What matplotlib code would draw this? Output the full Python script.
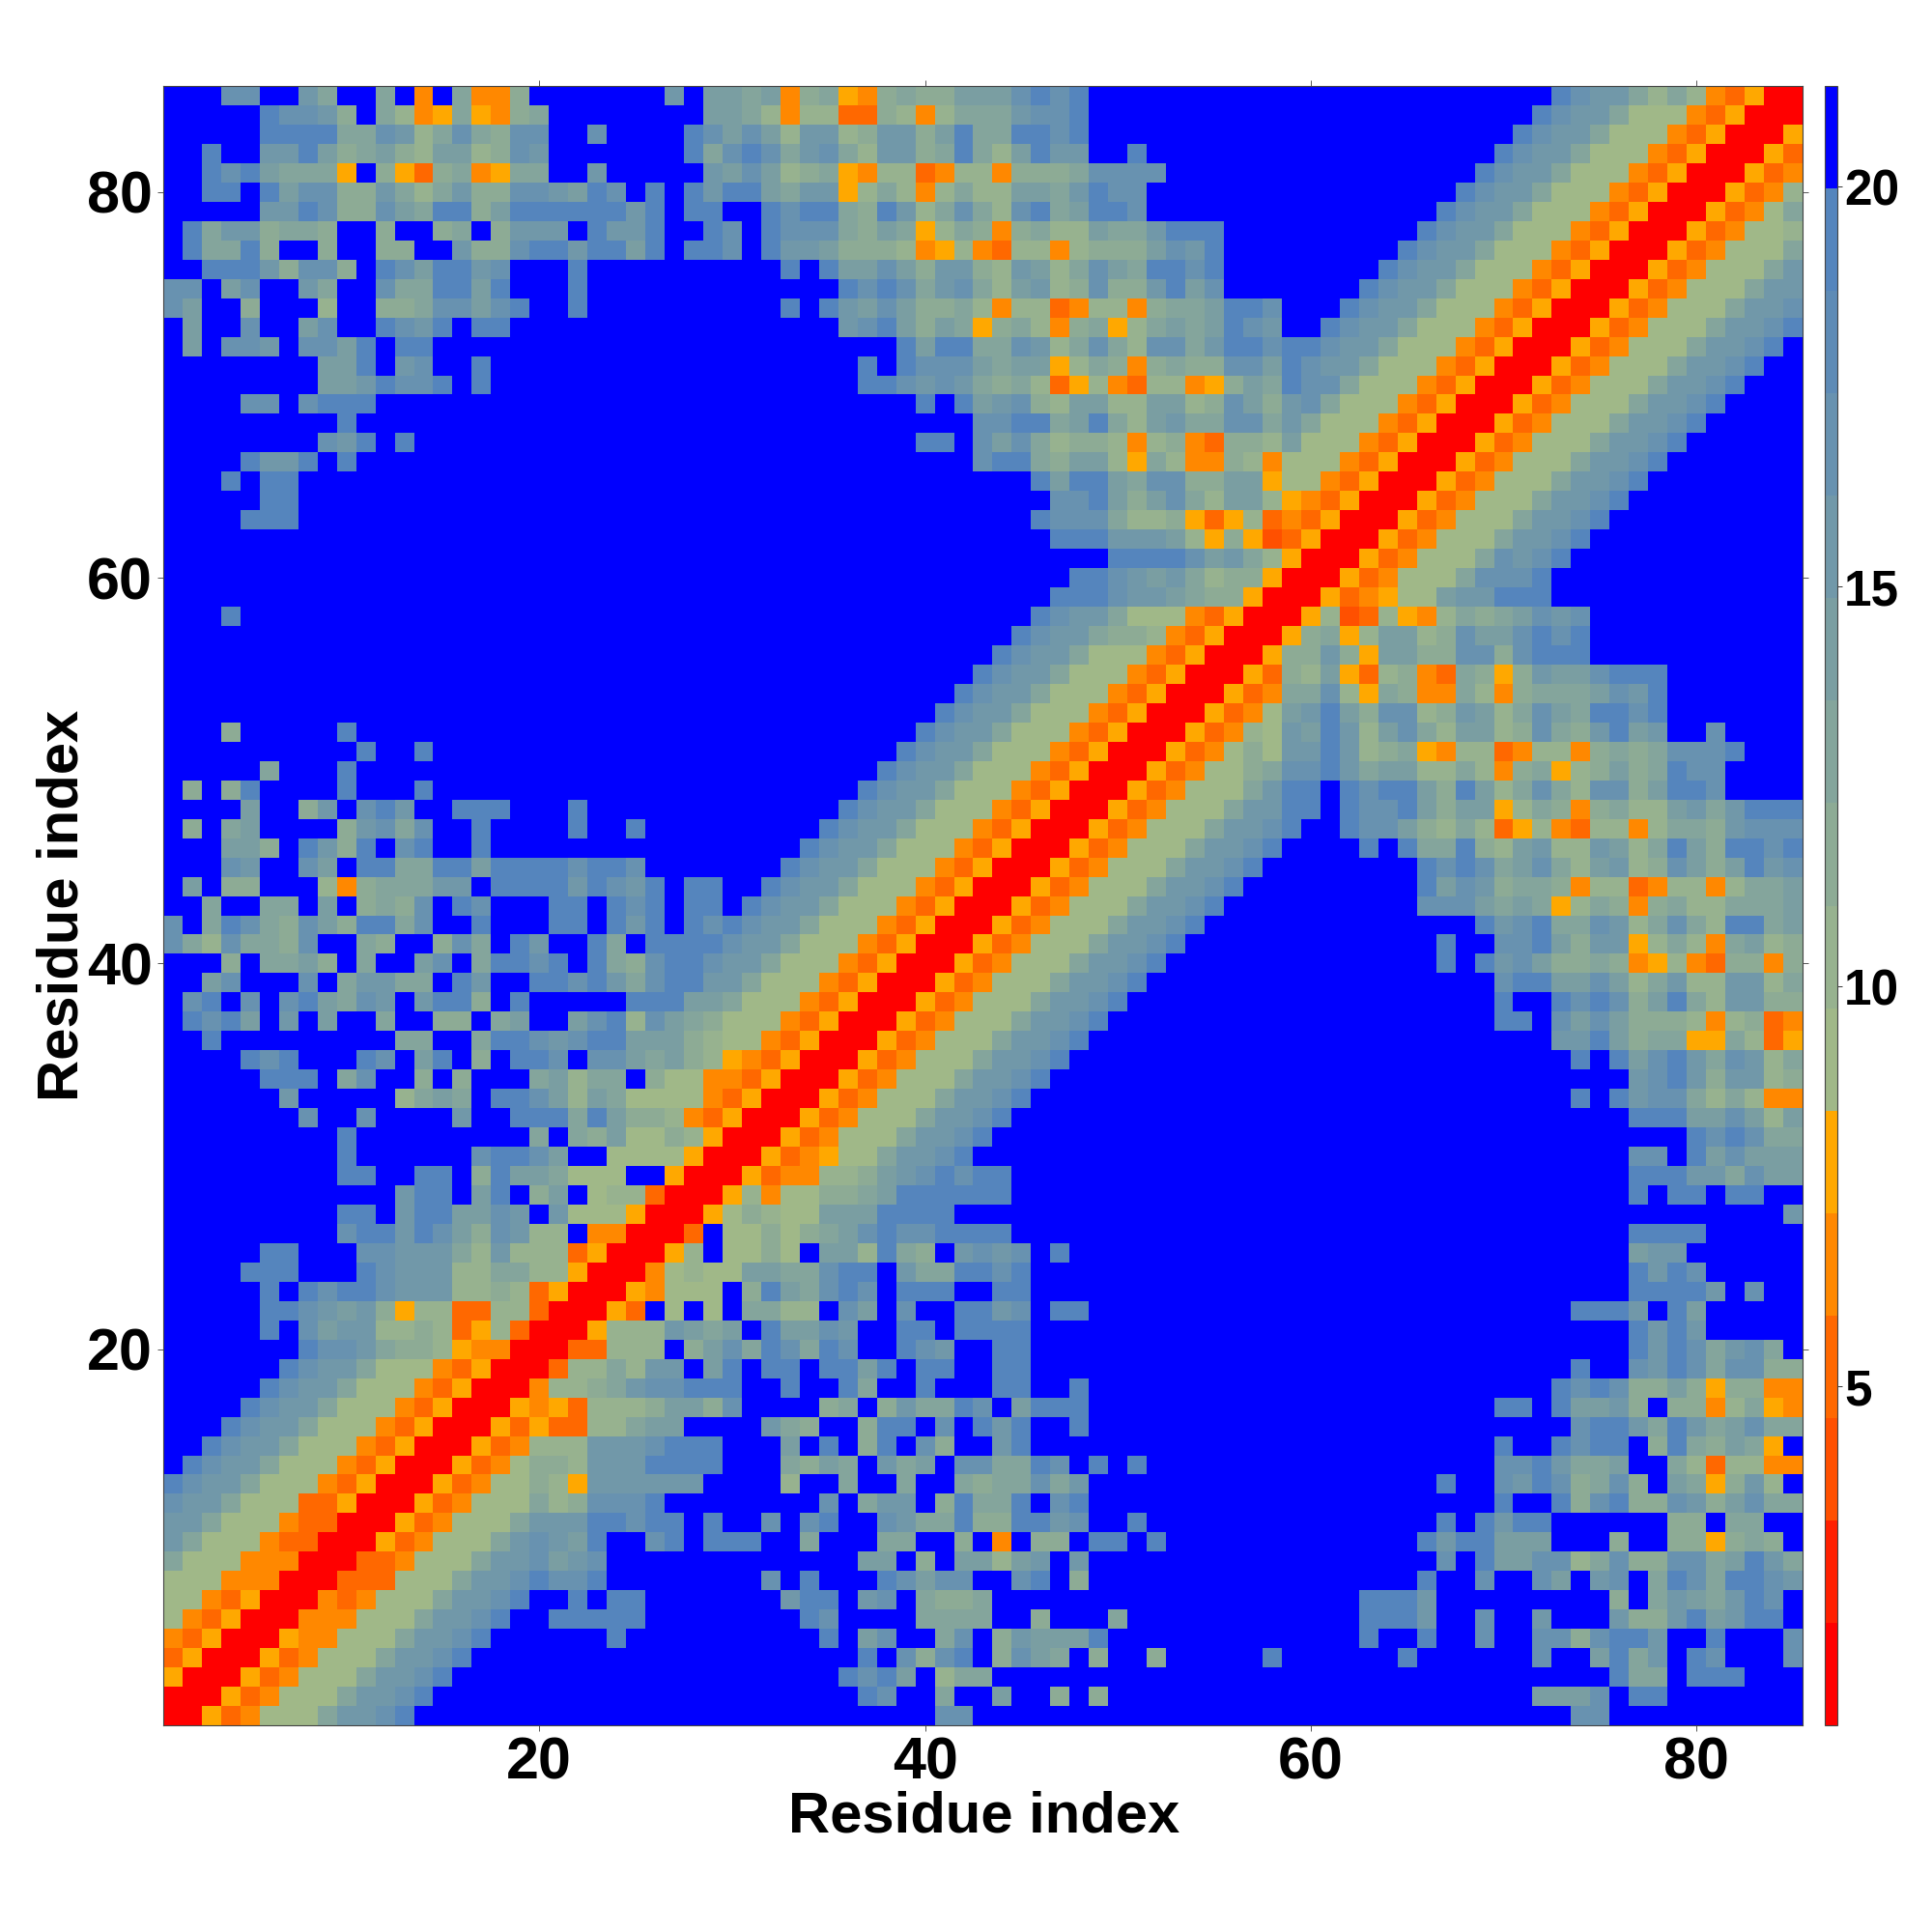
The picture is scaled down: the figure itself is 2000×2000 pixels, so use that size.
import matplotlib
matplotlib.use("Agg")
import matplotlib.pyplot as plt
import numpy as np
from matplotlib.colors import BoundaryNorm, ListedColormap

plt.rcParams["font.family"] = ["Liberation Sans", "DejaVu Sans"]
plt.rcParams["font.weight"] = "bold"

F = "f"
BAND = "ecbb966643500"  # cells left of the diagonal

# one hex digit per cell = colour level, rows 85 down to 1, columns 1..row (map is symmetric)
residue_rows = [
    "fffccffb9ff9f4f9448fffffffbfa" "a9a4895489" "88aaacece" + F * 9 + F * 15 + "ecbb979743500",
    "fffffeccb8f974595489ffffffffa" "a974773387" "47999bcce" + F * 9 + F * 14 + BAND,
    "fffffeeee99cb79c98ccffcffffec" "aca7bb78bb" "8ae99eece" + F * 9 + F * 13 + BAND,
    "ffeffbbea89a87aa78cbfffffffe9" "cec9bc97bb" "89e97aebb" "ffeffffff" + F * 12 + BAND,
    "ffecea9995f853894599ffbfffffb" "aca7895477" "347748889" "cccc" "fffff" + F * 11 + BAND,
    "ffeefeacc88b979b88ccbaecfefeb" "eea9bb5797" "47977aa9b" "ecc" "ffffff" + F * 10 + BAND,
    "fffffbbec88ca9ee8aeeeeeebefee" "ffecee98eb" "79c97ce9a" "eec" "ffffff" + F * 9 + BAND,
    "fe9bb8998ff8ff89f8bbbfebbeffe" "cfeccc98a9" "579848977" "a99b" "eee" "ff" + F * 8 + BAND,
    "fe99e8ff8ff88ffb88ceebeeaefee" "cfebba8887" "457437747" "888a" "cbe" "ff" + F * 7 + BAND,
    "ffeeeb8cc8fecaeebcfffefffffff" "fffefeaaca" "8bb87ba79" "ca9e" "ece" "ff" + F * 6 + BAND,
    "ccfacffb9ffc99eeaefffefffffff" "ffffffecec" "9bc97ab78" "c88b" "eac" "ff" + F * 5 + BAND,
    "caff8fff7ff889ccaceffefffffff" "fffefebaca" "889747734" "7748" "99a" "ee" "cfff" + BAND,
    "faffcffacffecbefeefffffffffff" "ffffffbcea" "8a9589748" "9579" "a9a" "ec" "bff" + BAND,
    "fafccbfccaefee" + F * 15 + "fffffffffe" "aee99cb79" "c97c" "c9b" "ee" "ce" + BAND,
    "ffffffffaaefbcffe" + F * 12 + "fffffffefe" "ccca9aa57" "9848" "988" "cc" "a" + BAND,
    "ffffffffaabeccefe" + F * 12 + "fffffffeec" "bcb989735" "7437" "745" "8a" "9ecc966643500",
    "ffffccfceee" + F * 18 + F * 10 + "efeabc87a" "a77a" "a78" "ca" "8bc966643500",
    F * 9 + "e" + F * 19 + F * 13 + "ccee9a" "e97a" "b99" "cc" "9b966643500",
    "ffffffffcbefe" + F * 16 + F * 10 + "eefcac978" "8747" "843" "88" "7a66643500",
    "ffffebbefe" + F * 19 + F * 13 + "cee98a" "a759" "744" "87" "466643500",
    "fffefee" + F * 22 + F * 16 + "eae" "ea9c" "c88" "aa" "56643500",
    "fffffee" + F * 22 + F * 17 + "cc" "ea8a" "c97" "aa" "7543500",
    "ffffeee" + F * 22 + F * 16 + "ecc" "c977" "853" "57" "343500",
    F * 29 + F * 17 + "ee" "ebbb" "a75" "85" "23500",
    F * 29 + F * 20 + "eee" "eca" "b9" "7500",
    F * 29 + F * 18 + "e" "ecba" "b97" "88" "500",
    F * 29 + F * 17 + "ee" "ecbb" "a98" "85" "00",
    "fffe" + F * 25 + F * 16 + "ecb" "b966" "643" "50" "0",
    F * 29 + F * 15 + "ecbb" "9887" "435" "00",
    F * 43 + BAND,
    F * 42 + BAND,
    F * 41 + BAND,
    F * 40 + BAND,
    "fff8fffffe" + F * 19 + F * 10 + BAND,
    "ffffffffffeffe" + F * 15 + F * 9 + BAND,
    "fffff9fffe" + F * 19 + F * 8 + BAND,
    "f8f8effffefffe" + F * 15 + F * 7 + BAND,
    "ffffaff8bfcebffeeefffefffffff" + F * 6 + BAND,
    "f8f9affff8bc9cffeffffeffeffff" + F * 5 + BAND,
    "fffaa8feb8efceffe" + F * 12 + F * 4 + BAND,
    "fffcbffcafee99eeaeeeeceecffff" + F * 3 + BAND,
    "faf88fff748999bbfeeeebecbefee" + F * 2 + BAND,
    "ff9ff99faf898cfecfffeefecefee" + F + BAND,
    "cf9ec98ca8ee9cffefffeefebefec" + BAND,
    "c97c998cff98ff8c9febffe9feeee" "cbb966643500",
    "fff8f99a8f9ffacf9eecefe98ceec" "bb966643500",
    "ffacfffcf9bb99febffeeceb9ceeb" "b966643500",
    "fcefcfcea9cbfbee8fefffffeeeaa" "966643500",
    "feceafbfaff9ff88f9afface7ca98" "66643500",
    "ffefffffffff99ff9eecbceeaaa87" "6643500",
    "ffffecefffecfaef8feecfcca9a87" "543500",
    "fffffeeef9cff8f8fff9a799f8664" "43500",
    "ffffffbfffff79a9feeca7a966664" "3500",
    "fffffffcffcffffbffeee9ea88743" "500",
    "fffffffffefffffffff9f98a66875" "00",
    "fffffffffeffffffceecaff666650" "0",
    "fffffffffeeffeef8eaa9666ff500",
    "ffffffffffffbeefaef8af677300",
    "fffffffffeefbeeaacbfb666500",
    "fffffffffceebeca8cb77f4400",
    "fffffeefffccbbb97b7773500",
    "ffffeeefffecbbb779977500",
    "fffffefeceecbbb77873500",
    "fffffeecbab85773377300",
    "fffffefcabb7787357300",
    "fffffffeccb988754400",
    F * 6 + BAND,
    F * 5 + BAND,
    F * 4 + BAND,
    F * 3 + BAND,
    F * 2 + BAND,
    F + BAND,
    BAND,
    "cbb966633500",
    "bb966643300",
    "b966643300",
    "966644400",
    "66644400",
    "6643500",
    "643500",
    "43500",
    "3500",
    "500",
    "00",
    "0",
]

level_colors = [
    "#ff0000", "#ff2000", "#ff5000", "#ff6800", "#ff8800", "#ffa800",
    "#a0b888", "#97b28f", "#8dab95", "#84a59c", "#7a9ea2", "#7198a9",
    "#6892b0", "#5e8bb6", "#5585bd", "#0000ff",
]
ticks_x = [20, 40, 60, 80]
ticks_cbar = [5, 10, 15, 20]
vmin, vmax = 0.76, 21.26

n = len(residue_rows)
edges = np.linspace(vmin, vmax, len(level_colors) + 1)
mids = (edges[:-1] + edges[1:]) / 2
dist = np.zeros((n, n))
for i, text in enumerate(reversed(residue_rows)):
    for j, ch in enumerate(text):
        dist[i, j] = dist[j, i] = mids[int(ch, 16)]

cmap = ListedColormap(level_colors)
norm = BoundaryNorm(edges, cmap.N)

fig = plt.figure(figsize=(20, 20), dpi=100)
ax = fig.add_axes([169 / 2000, 214 / 2000, 1697 / 2000, 1697 / 2000])
cax = fig.add_axes([1889 / 2000, 214 / 2000, 13 / 2000, 1697 / 2000])

im = ax.imshow(
    dist,
    origin="lower",
    cmap=cmap,
    norm=norm,
    interpolation="nearest",
    extent=(0.5, n + 0.5, 0.5, n + 0.5),
    aspect="auto",
)
ax.set_xticks(ticks_x)
ax.set_yticks(ticks_x)
ax.tick_params(axis="both", which="major", direction="out", length=4.5, width=0.7,
               color="#555555", labelsize=44, top=True, right=True, bottom=True)
ax.tick_params(axis="x", pad=4)
ax.tick_params(axis="y", pad=3.5)
ax.set_xlabel("Residue index", fontsize=43, fontweight="bold", va="center")
ax.set_ylabel("Residue index", fontsize=43, fontweight="bold", va="center")
ax.xaxis.set_label_coords(0.5006, -0.0557)
ax.yaxis.set_label_coords(-0.0612, 0.5003)
for spine in ax.spines.values():
    spine.set_linewidth(0.8)
    spine.set_color("#444444")

cb = fig.colorbar(im, cax=cax, ticks=ticks_cbar, spacing="proportional", drawedges=False)
cb.ax.set_yticklabels([str(t) for t in ticks_cbar])
cb.ax.minorticks_off()
cb.ax.tick_params(length=3.6, width=0.7, color="#333333", labelsize=37, pad=1.5)
cb.outline.set_linewidth(0.8)
cb.outline.set_edgecolor("#444444")

fig.savefig("out.png", dpi=100)
